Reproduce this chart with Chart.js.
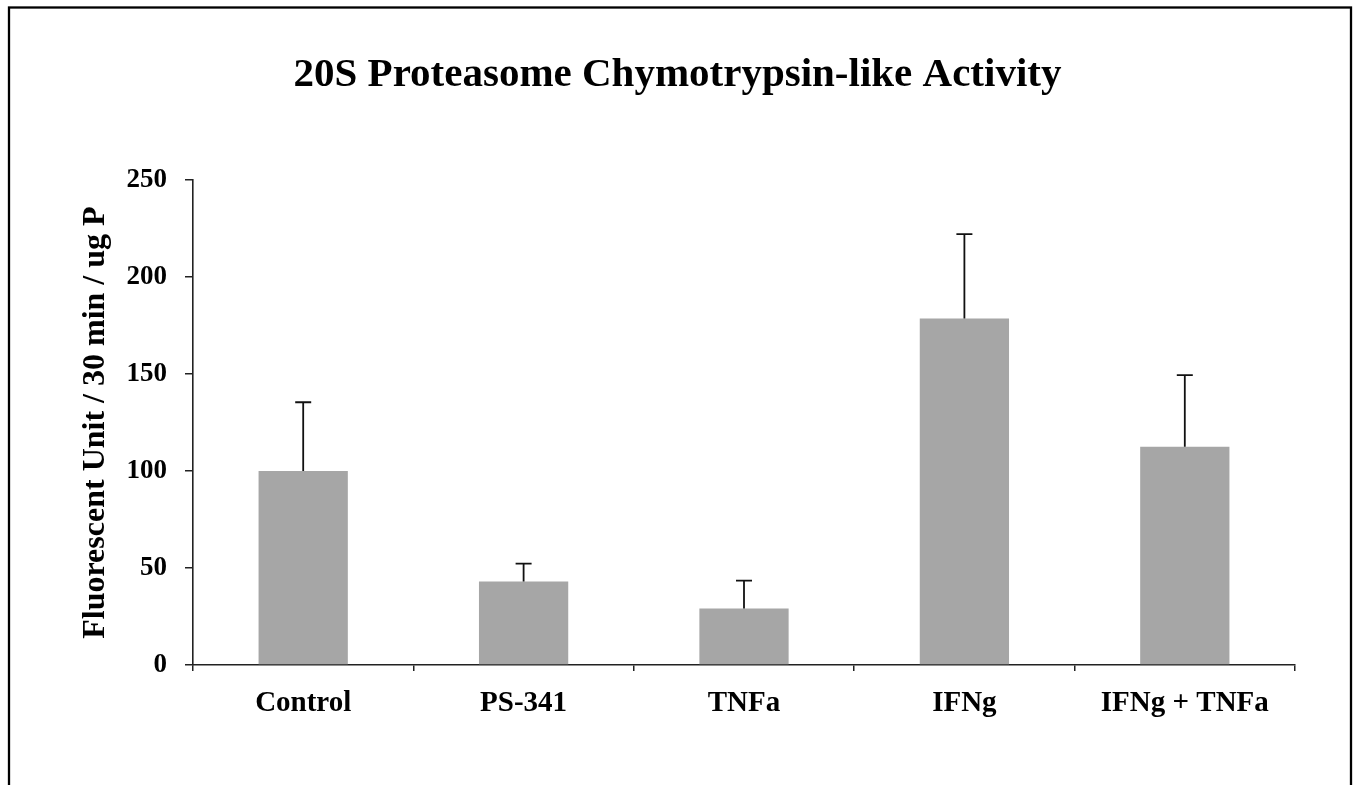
<!DOCTYPE html>
<html>
<head>
<meta charset="utf-8">
<script src="https://cdn.jsdelivr.net/npm/chart.js@4.4.1/dist/chart.umd.min.js"></script>
<style>
  html, body { margin: 0; padding: 0; background: #ffffff; }
  canvas { display: block; }
</style>
</head>
<body>
<canvas id="c" width="1357" height="785"></canvas>
<script>
const categories = ["Control", "PS-341", "TNFa", "IFNg", "IFNg + TNFa"];
const activityValues = [100, 43, 29.2, 178.7, 112.5];
const errorValues = [35.5, 9.3, 14.3, 43.5, 37];
const yTicks = [0, 50, 100, 150, 200, 250];

const FONT = "'Liberation Serif', 'Times New Roman', serif";

const errorBarPlugin = {
  id: 'errorBars',
  afterDatasetsDraw(chart) {
    const ctx = chart.ctx;
    const meta = chart.getDatasetMeta(0);
    const yScale = chart.scales.y;
    ctx.save();
    ctx.strokeStyle = '#111111';
    ctx.lineWidth = 1.8;
    meta.data.forEach((bar, i) => {
      const x = bar.x;
      const yTop = yScale.getPixelForValue(activityValues[i] + errorValues[i]);
      const yBase = yScale.getPixelForValue(activityValues[i]);
      ctx.beginPath();
      ctx.moveTo(x, yBase);
      ctx.lineTo(x, yTop);
      ctx.moveTo(x - 8, yTop);
      ctx.lineTo(x + 8, yTop);
      ctx.stroke();
    });
    ctx.restore();
  }
};

const framePlugin = {
  id: 'frame',
  afterDraw(chart) {
    const ctx = chart.ctx;
    ctx.save();
    ctx.strokeStyle = '#000000';
    ctx.lineWidth = 2.3;
    ctx.strokeRect(9, 7.5, 1342, 900);
    ctx.restore();
  }
};

new Chart(document.getElementById('c'), {
  type: 'bar',
  data: {
    labels: categories,
    datasets: [{
      data: activityValues,
      backgroundColor: '#a6a6a6',
      borderWidth: 0,
      categoryPercentage: 1.0,
      barPercentage: 0.405
    }]
  },
  options: {
    responsive: false,
    animation: false,
    events: [],
    layout: { padding: { left: 60, right: 62, top: 0, bottom: 0 } },
    plugins: {
      legend: { display: false },
      tooltip: { enabled: false },
      title: {
        display: true,
        text: '20S Proteasome Chymotrypsin-like Activity',
        color: '#000000',
        font: { family: FONT, size: 41, weight: 'bold', lineHeight: 1.2 },
        padding: { top: 51, bottom: 80 }
      }
    },
    scales: {
      x: {
        grid: {
          offset: true,
          drawOnChartArea: false,
          drawTicks: true,
          tickLength: 6,
          color: '#222222',
          lineWidth: 1.5
        },
        border: { display: true, color: '#222222', width: 1.6 },
        ticks: {
          color: '#000000',
          padding: 15,
          maxRotation: 0,
          font: { family: FONT, size: 29, weight: 'bold' }
        },
        afterFit(scale) { scale.height = 120; }
      },
      y: {
        min: 0,
        max: 250,
        afterBuildTicks(scale) { scale.ticks = yTicks.map(v => ({ value: v })); },
        grid: {
          drawOnChartArea: false,
          drawTicks: true,
          tickLength: 8,
          color: '#222222',
          lineWidth: 1.5
        },
        border: { display: true, color: '#222222', width: 1.6 },
        ticks: {
          color: '#000000',
          padding: 18,
          font: { family: FONT, size: 27, weight: 'bold' }
        },
        title: {
          display: true,
          text: 'Fluorescent Unit / 30 min / ug P',
          color: '#000000',
          padding: { top: 17, bottom: 0 },
          font: { family: FONT, size: 32, weight: 'bold', lineHeight: 1.2 }
        },
        afterFit(scale) { scale.width = 133; }
      }
    }
  },
  plugins: [errorBarPlugin, framePlugin]
});
</script>
</body>
</html>
